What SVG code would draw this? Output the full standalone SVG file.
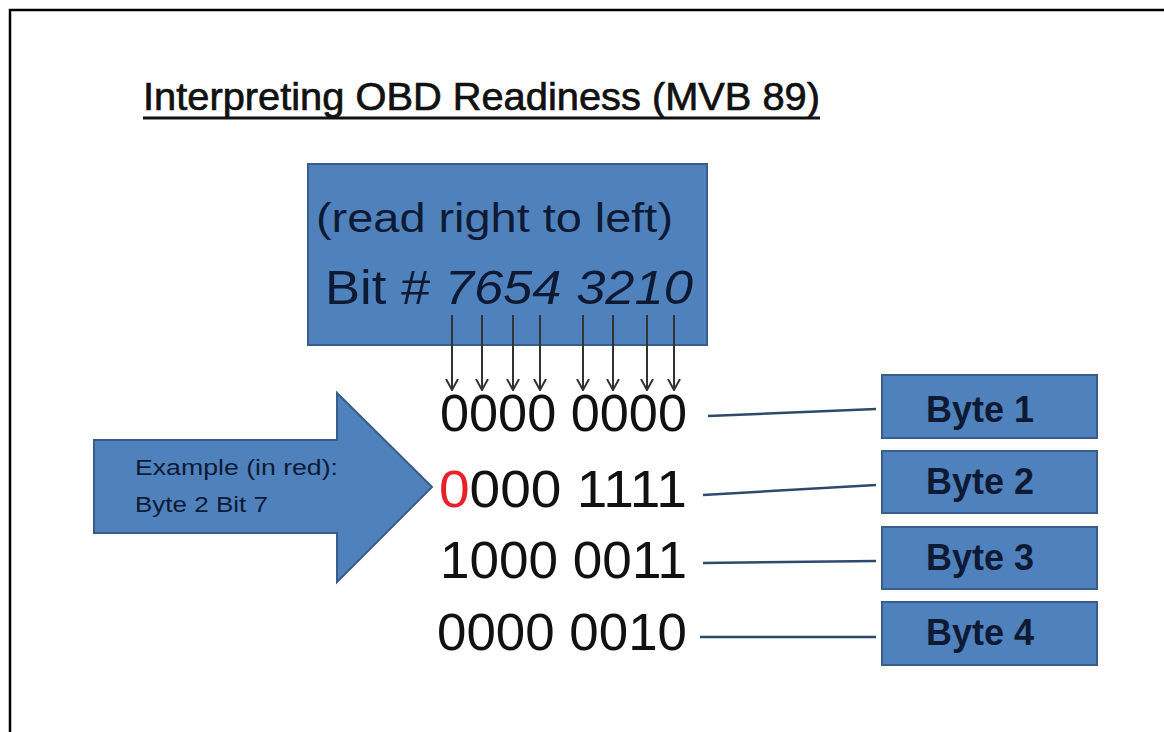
<svg xmlns="http://www.w3.org/2000/svg" width="1164" height="732" viewBox="0 0 1164 732">
<defs>
<style>
.blue{fill:#4F81BD;stroke:#385D8A;stroke-width:2}
.lbl{font-family:"Liberation Sans",Arial,sans-serif;fill:#0E1A33}
.bits{font-family:"Liberation Sans",Arial,sans-serif;font-size:52px;fill:#111111}
.byte{font-family:"Liberation Sans",Arial,sans-serif;font-size:36px;font-weight:bold;fill:#0E1A33;text-anchor:middle}
.conn{stroke:#2E4A6B;stroke-width:2.5;fill:none}
.barrow{stroke:#333333;stroke-width:2;fill:none}
</style>
<marker id="vhead" viewBox="0 0 12 14" refX="11" refY="7" markerWidth="12" markerHeight="14" markerUnits="userSpaceOnUse" orient="auto">
<path d="M0,1 L11,7 L0,13" fill="none" stroke="#333333" stroke-width="2"/>
</marker>
</defs>
<rect x="0" y="0" width="1164" height="732" fill="#ffffff"/>
<path d="M10,740 L10,10 L1170,10" fill="none" stroke="#000000" stroke-width="2.5"/>

<g id="title">
<text x="143" y="110" font-family="'Liberation Sans',Arial,sans-serif" font-size="39" fill="#111111" stroke="#111111" stroke-width="0.7" textLength="677" lengthAdjust="spacingAndGlyphs">Interpreting OBD Readiness (MVB 89)</text>
<line x1="143" y1="118" x2="820" y2="118" stroke="#111111" stroke-width="3"/>
</g>

<g id="bitbox">
<rect class="blue" x="308" y="164" width="399" height="181"/>
<text class="lbl" x="316" y="232" font-size="40" textLength="357" lengthAdjust="spacingAndGlyphs">(read right to left)</text>
<text class="lbl" x="325" y="304" font-size="48" textLength="368" lengthAdjust="spacingAndGlyphs">Bit # <tspan font-style="italic">7654 3210</tspan></text>
</g>

<g id="example-arrow">
<path class="blue" d="M94,440 L337,440 L337,393 L432,487 L337,582 L337,533 L94,533 Z"/>
<text class="lbl" x="135" y="475" font-size="22" textLength="203" lengthAdjust="spacingAndGlyphs">Example (in red):</text>
<text class="lbl" x="135" y="512" font-size="22" textLength="133" lengthAdjust="spacingAndGlyphs">Byte 2 Bit 7</text>
</g>

<g id="bytes-values">
<text class="bits" x="440" y="431" textLength="247" lengthAdjust="spacingAndGlyphs">0000 0000</text>
<text class="bits" x="439" y="507" textLength="248" lengthAdjust="spacingAndGlyphs"><tspan fill="#E8202A">0</tspan>000 1111</text>
<text class="bits" x="440" y="578" textLength="247" lengthAdjust="spacingAndGlyphs">1000 0011</text>
<text class="bits" x="437" y="650" textLength="250" lengthAdjust="spacingAndGlyphs">0000 0010</text>
</g>

<g id="byte1"><rect class="blue" x="882" y="375" width="215" height="63"/><text class="byte" x="980" y="422">Byte 1</text></g>
<g id="byte2"><rect class="blue" x="882" y="451" width="215" height="62"/><text class="byte" x="980" y="494">Byte 2</text></g>
<g id="byte3"><rect class="blue" x="882" y="527" width="215" height="62"/><text class="byte" x="980" y="570">Byte 3</text></g>
<g id="byte4"><rect class="blue" x="882" y="602" width="215" height="63"/><text class="byte" x="980" y="645">Byte 4</text></g>

<g id="connectors">
<line class="barrow" x1="452" y1="315" x2="452" y2="390" marker-end="url(#vhead)"/>
<line class="barrow" x1="482" y1="315" x2="482" y2="390" marker-end="url(#vhead)"/>
<line class="barrow" x1="513" y1="315" x2="513" y2="390" marker-end="url(#vhead)"/>
<line class="barrow" x1="540" y1="315" x2="540" y2="390" marker-end="url(#vhead)"/>
<line class="barrow" x1="583" y1="315" x2="583" y2="390" marker-end="url(#vhead)"/>
<line class="barrow" x1="613" y1="315" x2="613" y2="390" marker-end="url(#vhead)"/>
<line class="barrow" x1="647" y1="315" x2="647" y2="390" marker-end="url(#vhead)"/>
<line class="barrow" x1="674" y1="315" x2="674" y2="390" marker-end="url(#vhead)"/>
<line class="conn" x1="708" y1="416" x2="876" y2="409"/>
<line class="conn" x1="703" y1="495" x2="876" y2="485"/>
<line class="conn" x1="703" y1="563" x2="876" y2="561"/>
<line class="conn" x1="700" y1="637" x2="876" y2="637"/>
</g>
</svg>
